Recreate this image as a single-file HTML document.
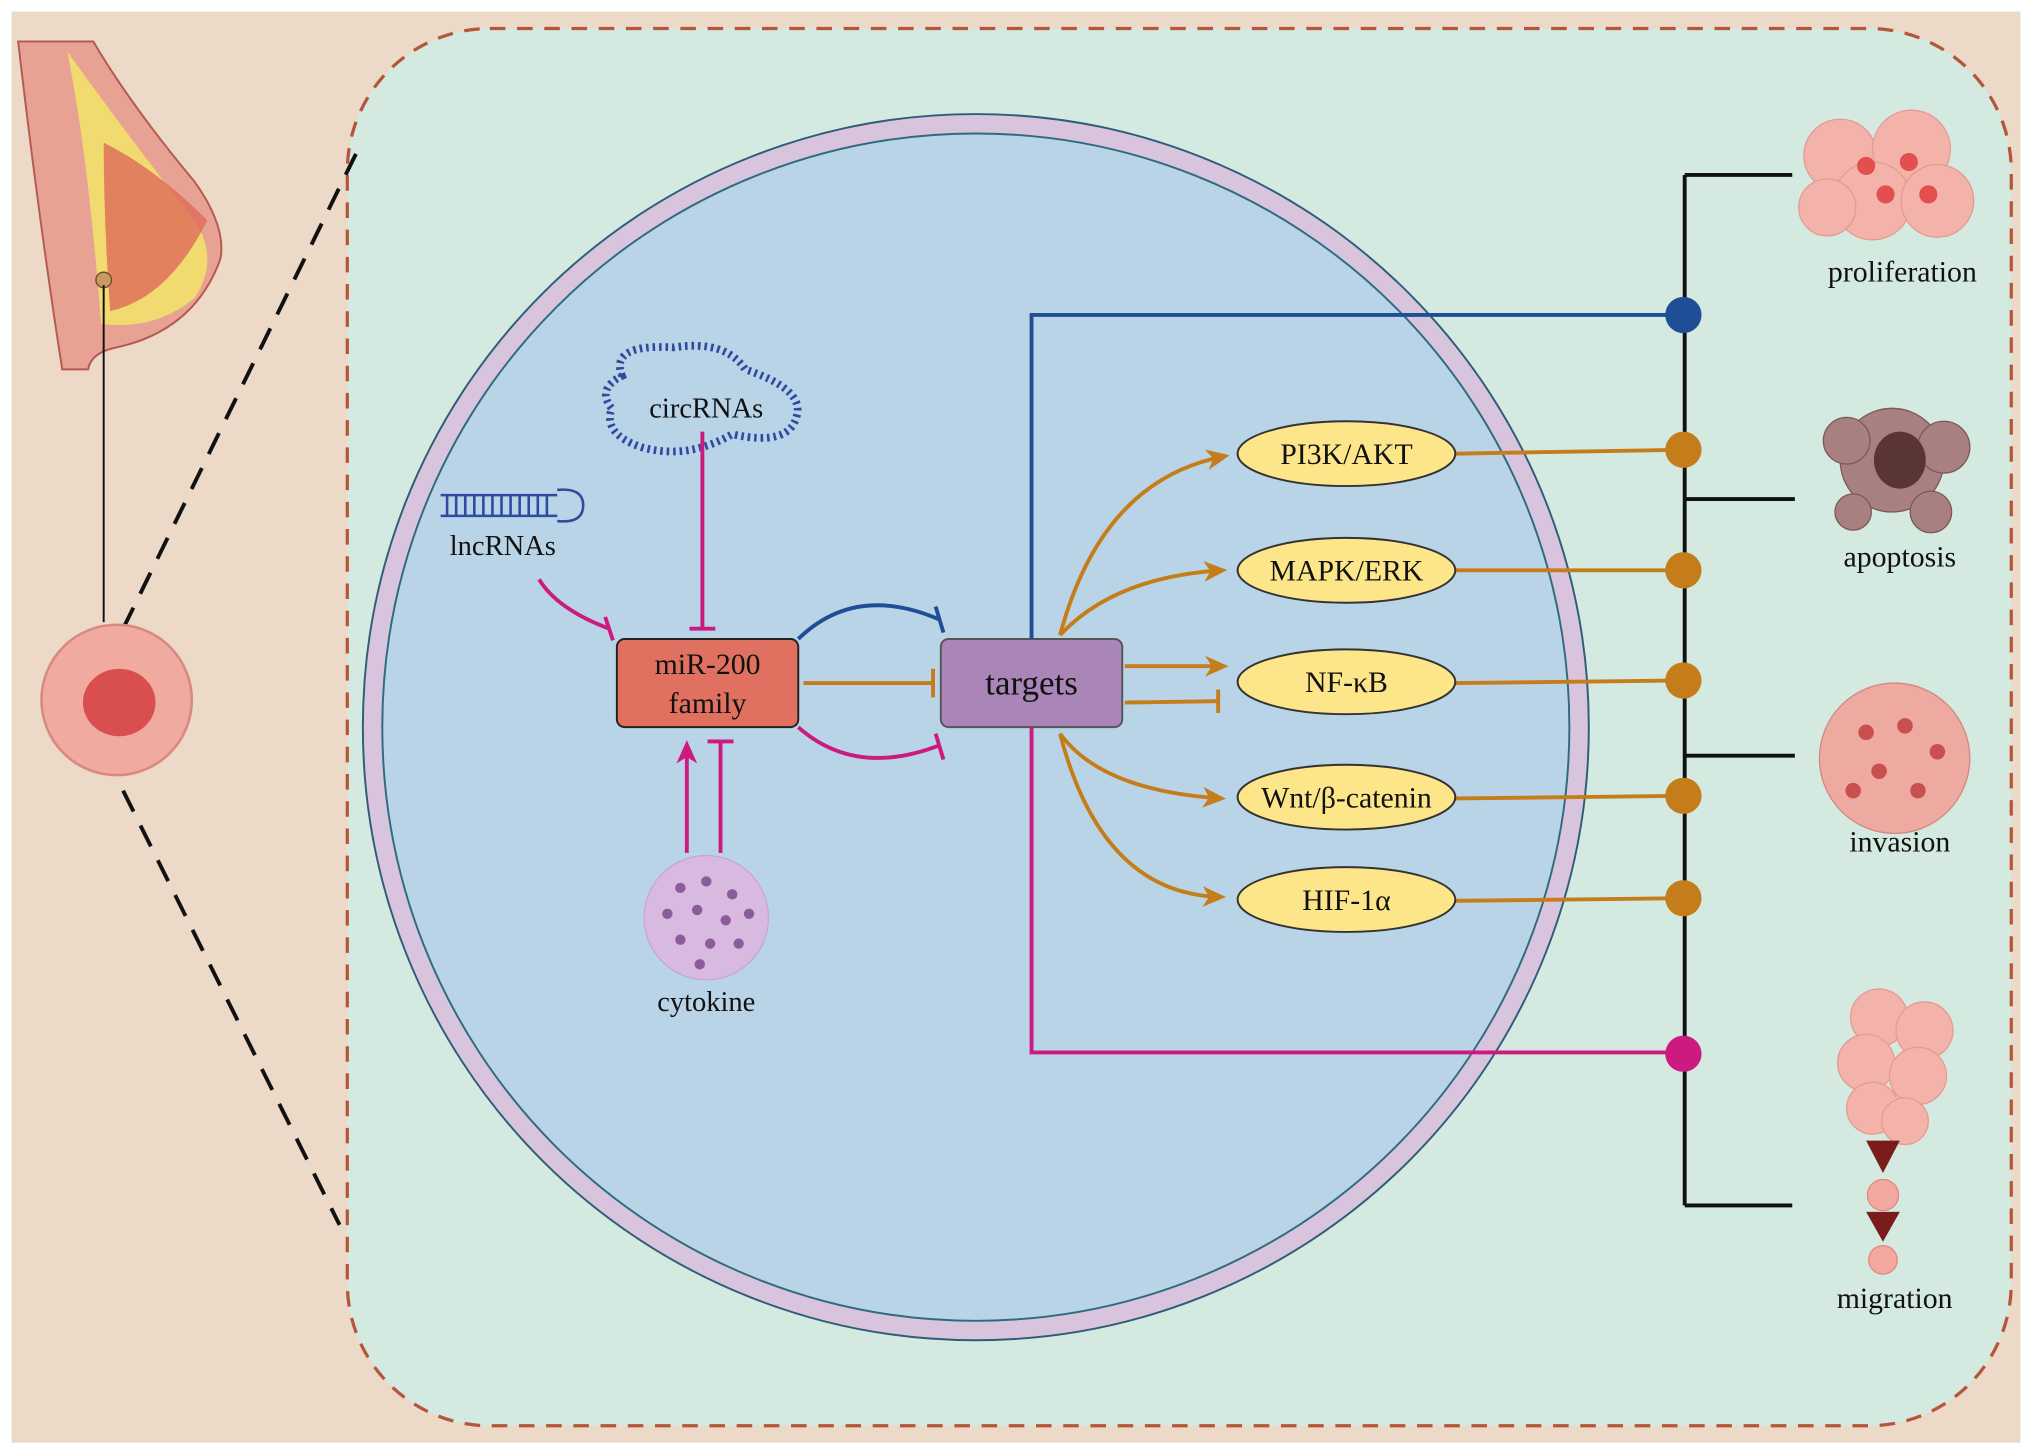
<!DOCTYPE html>
<html><head><meta charset="utf-8"><style>
html,body{margin:0;padding:0;background:#fff}
svg{display:block}
text{font-family:"Liberation Serif",serif}
</style></head><body>
<svg width="2032" height="1453" viewBox="0 0 1568 1121" preserveAspectRatio="none" xmlns="http://www.w3.org/2000/svg">
<defs>
<marker id="ao" markerWidth="18" markerHeight="18" refX="14" refY="9" orient="auto" markerUnits="userSpaceOnUse" viewBox="0 0 18 18"><path d="M0,1 L18,9 L0,17 L5,9 z" fill="#c47d1a"/></marker>
<marker id="ap" markerWidth="18" markerHeight="18" refX="14" refY="9" orient="auto" markerUnits="userSpaceOnUse" viewBox="0 0 18 18"><path d="M0,1 L18,9 L0,17 L5,9 z" fill="#cc1a80"/></marker>
</defs>
<rect x="0" y="0" width="1568" height="1121" fill="#fff"/>
<rect x="9" y="9" width="1550" height="1104" fill="#ecd9c8"/>
<rect x="268" y="22" width="1284" height="1078" rx="110" fill="#d4e9e0" stroke="#b5553a" stroke-width="2.5" stroke-dasharray="12,9"/>
<!-- breast -->
<path d="M14,32 L72,32 Q100,80 150,140 Q175,175 170,200 Q150,255 90,268 Q70,272 68,285 L48,285 Q30,170 14,32 z" fill="#e8a294" stroke="#b55a50" stroke-width="1.5"/>
<path d="M52,40 Q68,120 78,250 Q120,255 150,230 Q170,200 150,170 Q110,120 52,40z" fill="#f2e06a" opacity="0.9"/>
<path d="M80,110 Q120,130 160,170 Q130,230 85,240 Q80,170 80,110z" fill="#de6a5a" opacity="0.8"/>
<circle cx="80" cy="216" r="6" fill="#c89a60" stroke="#6b4a2a"/>
<line x1="80" y1="220" x2="80" y2="480" stroke="#111" stroke-width="1.5"/>
<line x1="95" y1="485" x2="275" y2="118" stroke="#111" stroke-width="3" stroke-dasharray="18,12"/>
<line x1="95" y1="610" x2="262" y2="945" stroke="#111" stroke-width="3" stroke-dasharray="18,12"/>
<circle cx="90" cy="540" r="58" fill="#f1aaa0" stroke="#d98a80" stroke-width="2"/>
<ellipse cx="92" cy="542" rx="28" ry="26" fill="#d94e4e"/>
<!-- cell -->
<circle cx="753" cy="561" r="473" fill="#d9c4dd" stroke="#2e5d7a" stroke-width="1.5"/>
<circle cx="753" cy="561" r="458" fill="#b9d4e6" stroke="#2e6b80" stroke-width="1.5"/>
<!-- circRNA -->
<path d="M480,290 Q470,265 520,268 Q560,262 575,285 Q620,300 615,320 Q610,345 565,335 Q530,355 495,345 Q465,335 472,315 Q460,300 480,290z" fill="none" stroke="#2f4aa0" stroke-width="6" stroke-dasharray="2,3"/>
<text x="545" y="322" font-size="22" text-anchor="middle" fill="#111">circRNAs</text>
<!-- lncRNA -->
<g stroke="#2f4aa0" stroke-width="2" fill="none"><line x1="340" y1="382" x2="430" y2="382"/><line x1="340" y1="398" x2="430" y2="398"/><path d="M430,378 Q450,376 450,390 Q450,404 430,402"/>
<path d="M345,382 V398 M352,382 V398 M359,382 V398 M366,382 V398 M373,382 V398 M380,382 V398 M387,382 V398 M394,382 V398 M401,382 V398 M408,382 V398 M415,382 V398 M422,382 V398"/></g>
<text x="388" y="428" font-size="22" text-anchor="middle" fill="#111">lncRNAs</text>
<!-- cytokine -->
<circle cx="545" cy="708" r="48" fill="#d8b9e0" stroke="#c9a5d3"/>
<g fill="#8a5c98"><circle cx="525" cy="685" r="4"/><circle cx="545" cy="680" r="4"/><circle cx="565" cy="690" r="4"/><circle cx="515" cy="705" r="4"/><circle cx="538" cy="702" r="4"/><circle cx="560" cy="710" r="4"/><circle cx="578" cy="705" r="4"/><circle cx="525" cy="725" r="4"/><circle cx="548" cy="728" r="4"/><circle cx="570" cy="728" r="4"/><circle cx="540" cy="744" r="4"/></g>
<text x="545" y="780" font-size="22" text-anchor="middle" fill="#111">cytokine</text>
<!-- inhibitions to miR -->
<line x1="542" y1="333" x2="542" y2="485" stroke="#cc1a80" stroke-width="3"/><line x1="532" y1="485" x2="552" y2="485" stroke="#cc1a80" stroke-width="3"/>
<path d="M416,447 Q430,470 470,485" fill="none" stroke="#cc1a80" stroke-width="3"/><line x1="467" y1="476" x2="473" y2="494" stroke="#cc1a80" stroke-width="3"/>
<line x1="530" y1="658" x2="530" y2="575" stroke="#cc1a80" stroke-width="3" marker-end="url(#ap)"/>
<line x1="556" y1="658" x2="556" y2="572" stroke="#cc1a80" stroke-width="3"/><line x1="546" y1="572" x2="566" y2="572" stroke="#cc1a80" stroke-width="3"/>
<!-- boxes -->
<rect x="476" y="493" width="140" height="68" rx="6" fill="#e07060" stroke="#222" stroke-width="1.5"/>
<text x="546" y="520" font-size="23" text-anchor="middle" fill="#111">miR-200</text>
<text x="546" y="550" font-size="23" text-anchor="middle" fill="#111">family</text>
<rect x="726" y="493" width="140" height="68" rx="6" fill="#a985b8" stroke="#555" stroke-width="1.5"/>
<text x="796" y="536" font-size="27" text-anchor="middle" fill="#111">targets</text>
<!-- miR to targets -->
<path d="M616,493 Q660,450 725,478" fill="none" stroke="#1f4e96" stroke-width="3"/><line x1="722" y1="468" x2="728" y2="488" stroke="#1f4e96" stroke-width="3"/>
<line x1="620" y1="527" x2="720" y2="527" stroke="#c47d1a" stroke-width="3"/><line x1="720" y1="516" x2="720" y2="538" stroke="#c47d1a" stroke-width="3"/>
<path d="M616,561 Q660,600 725,575" fill="none" stroke="#cc1a80" stroke-width="3"/><line x1="722" y1="566" x2="728" y2="586" stroke="#cc1a80" stroke-width="3"/>
<!-- blue / pink lines -->
<polyline points="796,493 796,243 1300,243" fill="none" stroke="#1f4e96" stroke-width="3"/>
<polyline points="796,561 796,812 1300,812" fill="none" stroke="#cc1a80" stroke-width="3"/>
<!-- orange arrows -->
<g fill="none" stroke="#c47d1a" stroke-width="3">
<path d="M818,490 Q850,370 945,352" marker-end="url(#ao)"/>
<path d="M818,490 Q860,445 943,440" marker-end="url(#ao)"/>
<line x1="868" y1="514" x2="944" y2="514" marker-end="url(#ao)"/>
<line x1="868" y1="542" x2="940" y2="541"/><line x1="940" y1="532" x2="940" y2="550"/>
<path d="M818,566 Q850,610 942,616" marker-end="url(#ao)"/>
<path d="M818,566 Q850,690 942,692" marker-end="url(#ao)"/>
<line x1="1123" y1="350" x2="1298" y2="347"/><line x1="1123" y1="440" x2="1298" y2="440"/><line x1="1123" y1="527" x2="1298" y2="525"/><line x1="1123" y1="616" x2="1298" y2="614"/><line x1="1123" y1="695" x2="1298" y2="693"/>
</g>
<g fill="#fde68a" stroke="#333" stroke-width="1.5">
<ellipse cx="1039" cy="350" rx="84" ry="25"/><ellipse cx="1039" cy="440" rx="84" ry="25"/><ellipse cx="1039" cy="526" rx="84" ry="25"/><ellipse cx="1039" cy="615" rx="84" ry="25"/><ellipse cx="1039" cy="694" rx="84" ry="25"/>
</g>
<g font-size="23" text-anchor="middle" fill="#111">
<text x="1039" y="358">PI3K/AKT</text><text x="1039" y="448">MAPK/ERK</text><text x="1039" y="534">NF-κB</text><text x="1039" y="623">Wnt/β-catenin</text><text x="1039" y="702">HIF-1α</text>
</g>
<!-- right bracket -->
<g stroke="#111" stroke-width="3" fill="none">
<line x1="1300" y1="135" x2="1300" y2="930"/>
<line x1="1300" y1="135" x2="1383" y2="135"/><line x1="1300" y1="385" x2="1385" y2="385"/><line x1="1300" y1="583" x2="1385" y2="583"/><line x1="1300" y1="930" x2="1383" y2="930"/>
</g>
<circle cx="1299" cy="243" r="14" fill="#1f4e96"/>
<g fill="#c47d1a"><circle cx="1299" cy="347" r="14"/><circle cx="1299" cy="440" r="14"/><circle cx="1299" cy="525" r="14"/><circle cx="1299" cy="614" r="14"/><circle cx="1299" cy="693" r="14"/></g>
<circle cx="1299" cy="813" r="14" fill="#cc1a80"/>
<!-- phenotype cells -->
<g fill="#f3b3aa" stroke="#e59a90"><circle cx="1420" cy="120" r="28"/><circle cx="1475" cy="115" r="30"/><circle cx="1445" cy="155" r="30"/><circle cx="1495" cy="155" r="28"/><circle cx="1410" cy="160" r="22"/></g>
<g fill="#e34f4f"><circle cx="1440" cy="128" r="7"/><circle cx="1473" cy="125" r="7"/><circle cx="1455" cy="150" r="7"/><circle cx="1488" cy="150" r="7"/></g>
<text x="1468" y="217" font-size="23" text-anchor="middle" fill="#111">proliferation</text>
<g fill="#a98080" stroke="#7a5858"><circle cx="1460" cy="355" r="40"/><circle cx="1425" cy="340" r="18"/><circle cx="1500" cy="345" r="20"/><circle cx="1430" cy="395" r="14"/><circle cx="1490" cy="395" r="16"/></g>
<ellipse cx="1466" cy="355" rx="20" ry="22" fill="#5a3535"/>
<text x="1466" y="437" font-size="23" text-anchor="middle" fill="#111">apoptosis</text>
<circle cx="1462" cy="585" r="58" fill="#eeaaa0" stroke="#d08880"/>
<g fill="#c95050"><circle cx="1440" cy="565" r="6"/><circle cx="1470" cy="560" r="6"/><circle cx="1495" cy="580" r="6"/><circle cx="1450" cy="595" r="6"/><circle cx="1480" cy="610" r="6"/><circle cx="1430" cy="610" r="6"/></g>
<text x="1466" y="657" font-size="23" text-anchor="middle" fill="#111">invasion</text>
<g fill="#f3b3aa" stroke="#e59a90"><circle cx="1450" cy="785" r="22"/><circle cx="1485" cy="795" r="22"/><circle cx="1440" cy="820" r="22"/><circle cx="1480" cy="830" r="22"/><circle cx="1445" cy="855" r="20"/><circle cx="1470" cy="865" r="18"/></g>
<path d="M1440,880 L1466,880 L1453,905 z" fill="#7a1c1c"/>
<circle cx="1453" cy="922" r="12" fill="#f3a8a0" stroke="#e08880"/>
<path d="M1440,935 L1466,935 L1453,958 z" fill="#7a1c1c"/>
<circle cx="1453" cy="972" r="11" fill="#f3a8a0" stroke="#e08880"/>
<text x="1462" y="1009" font-size="23" text-anchor="middle" fill="#111">migration</text>
</svg>
</body></html>
